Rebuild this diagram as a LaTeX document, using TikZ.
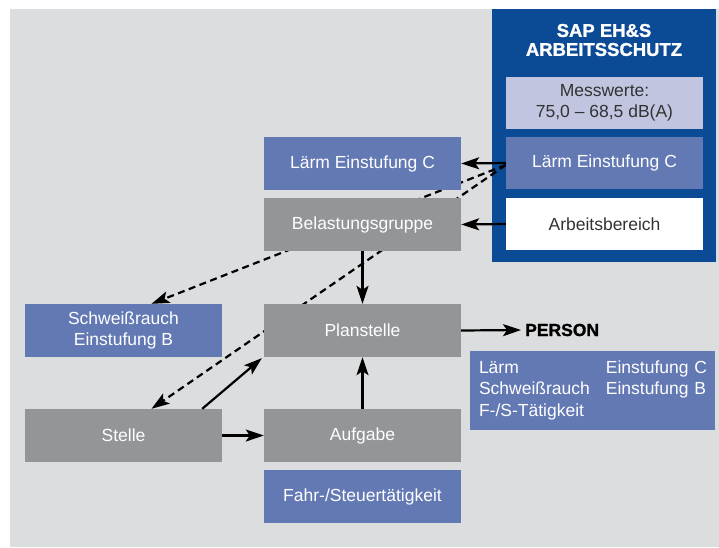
\documentclass[tikz,border=0pt]{standalone}
\usepackage{fontspec}
\setmainfont{Liberation Sans}
\newfontfamily\heavyfont[FakeBold=1.2]{Liberation Sans Bold}
\usepackage{tikz}
\usetikzlibrary{arrows.meta}

\definecolor{pagegrey}{HTML}{DCDDDF}
\definecolor{sapblue}{HTML}{0B4A94}
\definecolor{midblue}{HTML}{6379B4}
\definecolor{boxgrey}{HTML}{939598}
\definecolor{paleblue}{HTML}{C1C5E0}
\definecolor{darktext}{HTML}{333333}

\newcommand{\boxfont}{\fontsize{17.5}{21.5}\selectfont}
\newcommand{\headfont}{\heavyfont\fontsize{18.5}{19}\selectfont}

\pgfdeclarelayer{back}
\pgfdeclarelayer{mid}
\pgfsetlayers{back,mid,main}

\tikzset{
    greybox/.style = {fill=boxgrey, text=white, minimum width=197pt, minimum height=53pt,
                      inner sep=0pt, align=center, font=\boxfont},
    bluebox/.style = {greybox, fill=midblue},
    sapbox/.style  = {greybox, fill=white, text=darktext},
    arr/.style     = {line width=2.2pt, -{Stealth[length=18pt, width=12pt, inset=4pt]}},
    dasharr/.style = {arr, dash pattern=on 7pt off 4.5pt}
}

\begin{document}
\begin{tikzpicture}[x=1pt, y=-1pt]
    \useasboundingbox (0,0) rectangle (719,547);

    % Background and SAP frame
    \begin{pgfonlayer}{back}
        \fill[pagegrey] (10,9) rectangle (719,547);
        \node[fill=sapblue, minimum width=224pt, minimum height=253pt, inner sep=0pt] (sap) at (604,135.5) {};
    \end{pgfonlayer}

    % SAP side
    \node[text=white, align=center, font=\headfont] (title) at (604,40) {SAP EH\&S\\ARBEITSSCHUTZ};
    \node[sapbox, fill=paleblue, minimum height=52pt] (messwerte) at (604.5,103) {Messwerte:\\75,0 -- 68,5 dB(A)};
    \node[bluebox, minimum height=52pt] (laermR) at (604.5,163) {Lärm Einstufung C};
    \node[sapbox, minimum height=52pt] (bereich) at (604.5,224) {Arbeitsbereich};

    % Left side
    \node[bluebox] (laermL) at (362.5,163.5) {Lärm Einstufung C};
    \node[greybox] (belastung) at (362.5,224.5) {Belastungsgruppe};
    \node[greybox] (planstelle) at (362.5,330.5) {Planstelle};
    \node[bluebox] (schweiss) at (123.5,330.5) {Schweißrauch\\Einstufung B};
    \node[greybox] (stelle) at (123.5,435.5) {Stelle};
    \node[greybox] (aufgabe) at (362.5,435.5) {Aufgabe};
    \node[bluebox] (fahr) at (362.5,496.5) {Fahr-/Steuertätigkeit};

    % Person
    \node[anchor=west, inner sep=0pt, font=\heavyfont\fontsize{17.5}{20}\selectfont] (person) at (525,330) {PERSON};
    \node[fill=midblue, text=white, font=\boxfont, minimum width=245pt, minimum height=79pt,
          inner xsep=9pt, inner ysep=0pt, text width=227pt, align=left] (personbox) at (592.5,390.5)
          {\begin{tabular}{@{}l@{\hspace{16pt}}l@{}}
           Lärm & Einstufung C\\
           Schweißrauch & Einstufung B\\
           F-/S-Tätigkeit &
           \end{tabular}};

    % Dashed links, behind the boxes
    \begin{pgfonlayer}{mid}
        \draw[dasharr] ([yshift=-2pt]laermR.west) -- ([xshift=28pt]schweiss.north);
        \draw[dasharr] ([yshift=-2pt]laermR.west) -- ([xshift=28pt]stelle.north);
    \end{pgfonlayer}

    % Solid links
    \draw[arr] (laermR.west) -- (laermL.east);
    \draw[arr] (bereich.west) -- (belastung.east);
    \draw[arr] (belastung.south) -- (planstelle.north);
    \draw[arr] (aufgabe.north) -- (planstelle.south);
    \draw[arr] (stelle.east) -- (aufgabe.west);
    \draw[arr] ([xshift=-20pt]stelle.north east) -- ([xshift=-2pt,yshift=-1pt]planstelle.south west);
    \draw[arr] (planstelle.east) -- ([xshift=-4pt]person.west);
\end{tikzpicture}
\end{document}
